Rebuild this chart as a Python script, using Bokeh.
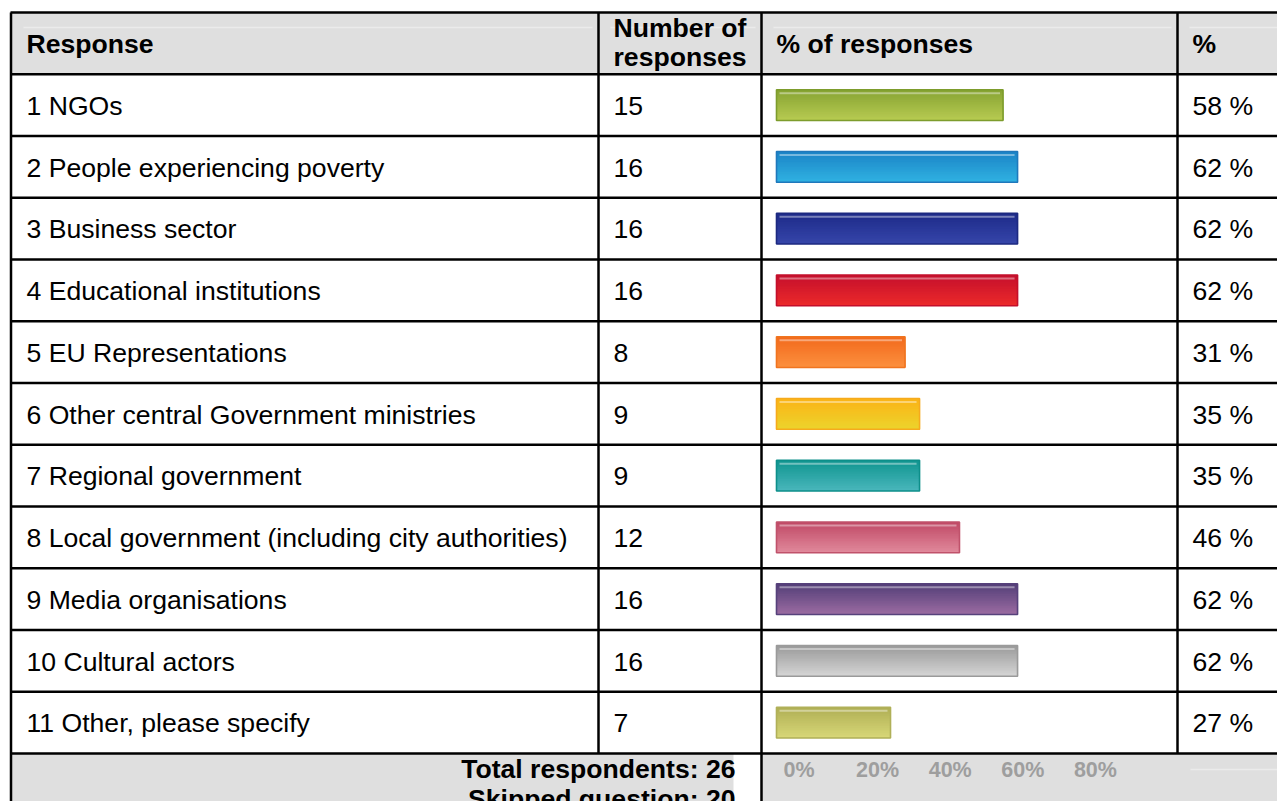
from bokeh.plotting import figure
from bokeh.models import Range1d, ColumnDataSource
from bokeh.core.properties import value
from bokeh.embed import file_html
from bokeh.resources import INLINE

# ---------------- data ----------------
responses = [
    "1 NGOs",
    "2 People experiencing poverty",
    "3 Business sector",
    "4 Educational institutions",
    "5 EU Representations",
    "6 Other central Government ministries",
    "7 Regional government",
    "8 Local government (including city authorities)",
    "9 Media organisations",
    "10 Cultural actors",
    "11 Other, please specify",
]
counts = [15, 16, 16, 16, 8, 9, 9, 12, 16, 16, 7]
percents = [58, 62, 62, 62, 31, 35, 35, 46, 62, 62, 27]
headers = ["Response", "Number of|responses", "% of responses", "%"]
total_respondents = 26
skipped_question = 20
ticks = [0, 20, 40, 60, 80]
tick_labels = ["0%", "20%", "40%", "60%", "80%"]

# bar colours (top of gradient, bottom of gradient, border)
bar_top = ["#86a332", "#1b83c6", "#1d2a88", "#c40f2c", "#f26a1c", "#fbb316",
           "#0f948f", "#bf4865", "#523e77", "#999999", "#afae54"]
bar_bot = ["#b8cb52", "#30b2e2", "#3646aa", "#ec2a2a", "#fc8f3e", "#ecd42c",
           "#4ab7bc", "#e18a9c", "#9c6ca2", "#d6d6d6", "#d8d878"]
bar_edge = ["#7d9c2c", "#1f78bc", "#1c2980", "#c30f2b", "#f0741f", "#f6aa1c",
            "#0d8f8a", "#c0526b", "#56417b", "#9a9a9a", "#b0b058"]

# ---------------- geometry (picture pixels -> data units) ----------------
W, H = 1277, 801
X0_PX = 792.0        # picture x of 0 %
PX_PER_PCT = 3.63
TOP_PX = 12.0        # top of header row
ROW_PX = 61.75


def X(px):
    return (px - X0_PX) / PX_PER_PCT


def Y(py):
    return (py - TOP_PX) / ROW_PX - 0.5


x_lo, x_hi = X(0), X(W)
y_top, y_bot = Y(0), Y(H)

p = figure(width=W, height=H, output_backend="svg", toolbar_location=None,
           x_range=Range1d(x_lo, x_hi), y_range=Range1d(y_bot, y_top),
           min_border=0, background_fill_color="white", border_fill_color="white")
p.axis.visible = False
p.grid.visible = False
p.outline_line_color = None

FONT = value("Liberation Sans")
HDR_GRAY = "#dfdfdf"
FS = 26.6
TS = f"{FS}px"
FUDGE = 0.35  # em, baseline correction


def yoff(base_px, row_y, fs=FS):
    center_px = TOP_PX + (row_y + 0.5) * ROW_PX
    return base_px - center_px - FUDGE * fs


col_left_px = [11, 598, 761, 1177]
col_right_px = [598, 761, 1177, 1290]
text_x_px = [26, 613, 776, 1192]

# header background
p.quad(left=[X(11)], right=[x_hi], top=[-0.5], bottom=[0.5], fill_color=HDR_GRAY, line_color=None)
# header gloss lines
gy = Y(27)
p.segment(x0=[X(l + 12) for l in col_left_px], x1=[X(min(r - 6, 1285)) for r in col_right_px],
          y0=[gy] * 4, y1=[gy] * 4, line_color="#ebebeb", line_width=1.5)

# footer background
n = len(responses)
ft = n + 0.5
p.quad(left=[X(11), X(761)], right=[X(733), x_hi], top=[ft, ft], bottom=[y_bot, y_bot],
       fill_color=HDR_GRAY, line_color=None)
p.segment(x0=[X(1190)], x1=[x_hi], y0=[Y(769)], y1=[Y(769)], line_color="#ebebeb", line_width=1.5)

# ---------------- bars with gradient ----------------
rows = list(range(1, n + 1))
bar_left = X(776)
bar_h = 0.5
NS = 18


def mix(c1, c2, t):
    a = [int(c1[i:i + 2], 16) for i in (1, 3, 5)]
    b = [int(c2[i:i + 2], 16) for i in (1, 3, 5)]
    return "#%02x%02x%02x" % tuple(round(a[k] + (b[k] - a[k]) * t) for k in range(3))


# layered stripes: each one runs from its own top to the bar's bottom (no seams)
for k in range(NS):
    t = (k + 0.5) / NS
    top_frac = k / NS
    hh = bar_h * (1 - top_frac)
    src = ColumnDataSource(dict(
        y=[r + bar_h / 2 - hh / 2 for r in rows],
        left=[bar_left] * n,
        right=percents,
        c=[mix(bar_top[i], bar_bot[i], t) for i in range(n)],
    ))
    p.hbar(y="y", left="left", right="right", height=hh, fill_color="c",
           line_color=None, source=src)

# top highlight
hl = ColumnDataSource(dict(
    x0=[bar_left + 3 / PX_PER_PCT] * n,
    x1=[v - 3 / PX_PER_PCT for v in percents],
    y=[r - bar_h / 2 + 3.5 / ROW_PX for r in rows],
))
p.segment(x0="x0", x1="x1", y0="y", y1="y", line_color="white", line_alpha=0.4,
          line_width=2, source=hl)
# border
p.hbar(y=rows, left=bar_left, right=percents, height=bar_h, fill_color=None,
       line_color=bar_edge, line_width=1.6)

# ---------------- grid lines ----------------
hy = [k - 0.5 for k in range(n + 2)]
p.segment(x0=[X(10)] * len(hy), x1=[x_hi] * len(hy), y0=hy, y1=hy, line_color="black", line_width=2.5)
p.segment(x0=[X(10.5)], x1=[X(10.5)], y0=[-0.5], y1=[y_bot], line_color="black", line_width=2.5)
p.segment(x0=[X(598), X(1177)], x1=[X(598), X(1177)], y0=[-0.5, -0.5], y1=[ft, ft],
          line_color="black", line_width=2.5)
p.segment(x0=[X(761)], x1=[X(761)], y0=[-0.5], y1=[y_bot], line_color="black", line_width=2.5)

# ---------------- texts ----------------
for i, h in enumerate(headers):
    parts = h.split("|")
    if len(parts) == 1:
        bases = [53]
    else:
        bases = [37, 66]
    for part, b in zip(parts, bases):
        p.text(x=[X(text_x_px[i])], y=[0], text=[part], text_font=FONT, text_font_size=TS,
               text_font_style="bold", text_baseline="alphabetic", text_align="left",
               y_offset=yoff(b, 0), text_color="black")

body = ColumnDataSource(dict(
    y=rows,
    resp=responses,
    cnt=[str(c) for c in counts],
    pct=[f"{v} %" for v in percents],
))
body_off = 10 - FUDGE * FS
for xp, col in [(text_x_px[0], "resp"), (text_x_px[1], "cnt"), (text_x_px[3], "pct")]:
    p.text(x=X(xp), y="y", text=col, source=body, text_font=FONT, text_font_size=TS,
           text_baseline="alphabetic", text_align="left", y_offset=body_off, text_color="black")

# footer texts
foot_y = n + 1
p.text(x=[X(735)], y=[foot_y], text=[f"Total respondents: {total_respondents}"], text_font=FONT,
       text_font_size=TS, text_font_style="bold", text_align="right", text_baseline="alphabetic",
       y_offset=yoff(778, foot_y), text_color="black")
p.text(x=[X(735)], y=[foot_y], text=[f"Skipped question: {skipped_question}"], text_font=FONT,
       text_font_size=TS, text_font_style="bold", text_align="right", text_baseline="alphabetic",
       y_offset=yoff(808, foot_y), text_color="black")

# axis tick labels in the footer
TICK_FS = 21.5
p.text(x=ticks, y=[foot_y] * len(ticks), text=tick_labels, text_font=FONT,
       text_font_size=f"{TICK_FS}px",
       text_font_style="bold", text_align="left", text_baseline="alphabetic", x_offset=-9,
       y_offset=yoff(777.5, foot_y, TICK_FS), text_color="#9e9e9e")

open("out.html", "w").write(file_html(p, INLINE))
